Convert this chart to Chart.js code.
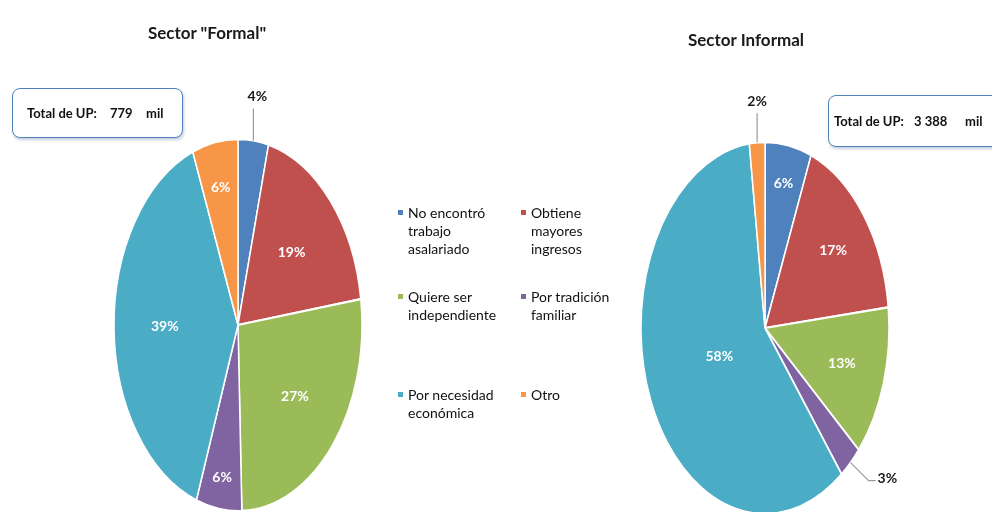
<!DOCTYPE html>
<html>
<head>
<meta charset="utf-8">
<script src="https://cdn.jsdelivr.net/npm/chart.js@4/dist/chart.umd.min.js"></script>
<style>
  html,body{margin:0;padding:0;background:#fff;}
  #wrap{position:relative;width:992px;height:512px;overflow:hidden;font-family:Lato,"Open Sans",sans-serif;color:#111;}
  canvas{position:absolute;top:0;}
  #c1{left:0;}
  #c2{left:592px;}
  .title{position:absolute;font-weight:bold;font-size:17px;white-space:nowrap;transform:translateX(-50%);color:#1a1a1a;}
  .box{position:absolute;border:1.5px solid #4F81BD;border-radius:8px;box-shadow:1px 2px 3px rgba(80,110,160,0.35);background:#fff;font-weight:bold;font-size:13px;white-space:nowrap;box-sizing:border-box;}
  .box span{position:absolute;top:50%;transform:translateY(-50%);}
  #legend{position:absolute;left:398px;top:0;width:230px;height:512px;font-size:14px;}
  .li{position:absolute;line-height:18px;}
  .li i{position:absolute;left:0;top:6px;width:5px;height:5px;}
  .li div{margin-left:10px;white-space:nowrap;}
</style>
</head>
<body>
<div id="wrap">
  <canvas id="c1" width="400" height="512"></canvas>
  <canvas id="c2" width="400" height="512"></canvas>
  <div class="title" id="t1" style="left:207px;top:22px;"></div>
  <div class="title" id="t2" style="left:746px;top:29px;"></div>
  <div class="box" id="b1" style="left:12px;top:88px;width:171px;height:50px;"></div>
  <div class="box" id="b2" style="left:828px;top:95px;width:190px;height:52px;"></div>
  <div id="legend"></div>
</div>
<script>
const categories = [
  ['No encontró','trabajo','asalariado'],
  ['Obtiene','mayores','ingresos'],
  ['Quiere ser','independiente'],
  ['Por tradición','familiar'],
  ['Por necesidad','económica'],
  ['Otro']
];
const formalValues = [4, 19, 27, 6, 39, 6];
const informalValues = [6, 17, 13, 3, 58, 2];
const chartTitles = ['Sector "Formal"', 'Sector Informal'];
const totalLabel = 'Total de UP:';
const totals = ['779', '3 388'];
const totalUnit = 'mil';
const colors = ['#4F81BD','#C0504D','#9BBB59','#8064A2','#4BACC6','#F79646'];

document.getElementById('t1').textContent = chartTitles[0];
document.getElementById('t2').textContent = chartTitles[1];

function fillBox(id, total, xs){
  const b = document.getElementById(id);
  [totalLabel, total, totalUnit].forEach((t,i)=>{
    const s = document.createElement('span'); s.textContent = t; s.style.left = xs[i]+'px'; b.appendChild(s);
  });
}
fillBox('b1', totals[0], [14, 97, 133]);
fillBox('b2', totals[1], [5, 85, 136]);

// legend
const legend = document.getElementById('legend');
const rowTops = [204, 288, 386];
categories.forEach((lines,i)=>{
  const d = document.createElement('div'); d.className='li';
  d.style.left = (i%2 ? 123 : 0)+'px';
  d.style.top = rowTops[Math.floor(i/2)]+'px';
  const m = document.createElement('i'); m.style.background = colors[i]; d.appendChild(m);
  const t = document.createElement('div'); t.innerHTML = lines.join('<br>'); d.appendChild(t);
  legend.appendChild(d);
});

const SY = 1.5;
const ellipse = {
  id:'ellipse',
  beforeDatasetsDraw(chart){
    const a = chart.getDatasetMeta(0).data[0];
    const ctx = chart.ctx;
    ctx.save(); ctx.translate(a.x, a.y); ctx.scale(1, SY); ctx.translate(-a.x, -a.y);
  },
  afterDatasetsDraw(chart){ chart.ctx.restore(); }
};

function makeLabelPlugin(place){
  return {
    id:'sliceLabels',
    afterDraw(chart){
      const meta = chart.getDatasetMeta(0);
      const data = chart.data.datasets[0].data;
      const ctx = chart.ctx;
      ctx.save();
      meta.data.forEach((arc,i)=>{
        const p = arc.getProps(['x','y','startAngle','endAngle','outerRadius'], true);
        const mid = (p.startAngle + p.endAngle)/2;
        const spec = place[i];
        const txt = data[i] + '%';
        ctx.font = 'bold 14px Lato, "Open Sans", sans-serif';
        ctx.textBaseline = 'middle';
        if (typeof spec === 'number'){
          const x = p.x + Math.cos(mid)*p.outerRadius*spec;
          const y = p.y + Math.sin(mid)*p.outerRadius*spec*SY;
          ctx.fillStyle = '#fff'; ctx.textAlign = 'center';
          ctx.fillText(txt, x, y);
        } else {
          const ex = p.x + Math.cos(mid)*p.outerRadius;
          const ey = p.y + Math.sin(mid)*p.outerRadius*SY;
          ctx.strokeStyle = '#9a9a9a'; ctx.lineWidth = 1.2;
          ctx.beginPath(); ctx.moveTo(ex, ey);
          spec.line.forEach(pt=>ctx.lineTo(ex+pt[0], ey+pt[1]));
          ctx.stroke();
          ctx.fillStyle = '#1a1a1a'; ctx.textAlign = spec.align;
          ctx.fillText(txt, ex+spec.text[0], ey+spec.text[1]);
        }
      });
      ctx.restore();
    }
  };
}

function makePie(id, values, pad, place){
  return new Chart(document.getElementById(id), {
    type:'pie',
    data:{ labels: categories, datasets:[{ data: values, backgroundColor: colors, borderColor:'#fff', borderWidth:1.5, radius:124 }] },
    options:{
      responsive:false, animation:false, events:[],
      layout:{ padding: pad },
      plugins:{ legend:{display:false}, title:{display:false}, tooltip:{enabled:false} }
    },
    plugins:[ellipse, makeLabelPlugin(place)]
  });
}

makePie('c1', formalValues, {left:114, right:38, top:201, bottom:63},
  [ {line:[[0,-2],[0,-32]], text:[4,-44], align:'center'}, 0.58, 0.6, 0.83, 0.59, 0.75 ]);
makePie('c2', informalValues, {left:49, right:103, top:204, bottom:60},
  [ 0.79, 0.69, 0.65, {line:[[18,18],[25,18]], text:[27,16], align:'left'}, 0.4, {line:[[0,-2],[0,-29]], text:[0,-41], align:'center'} ]);
</script>
</body>
</html>
